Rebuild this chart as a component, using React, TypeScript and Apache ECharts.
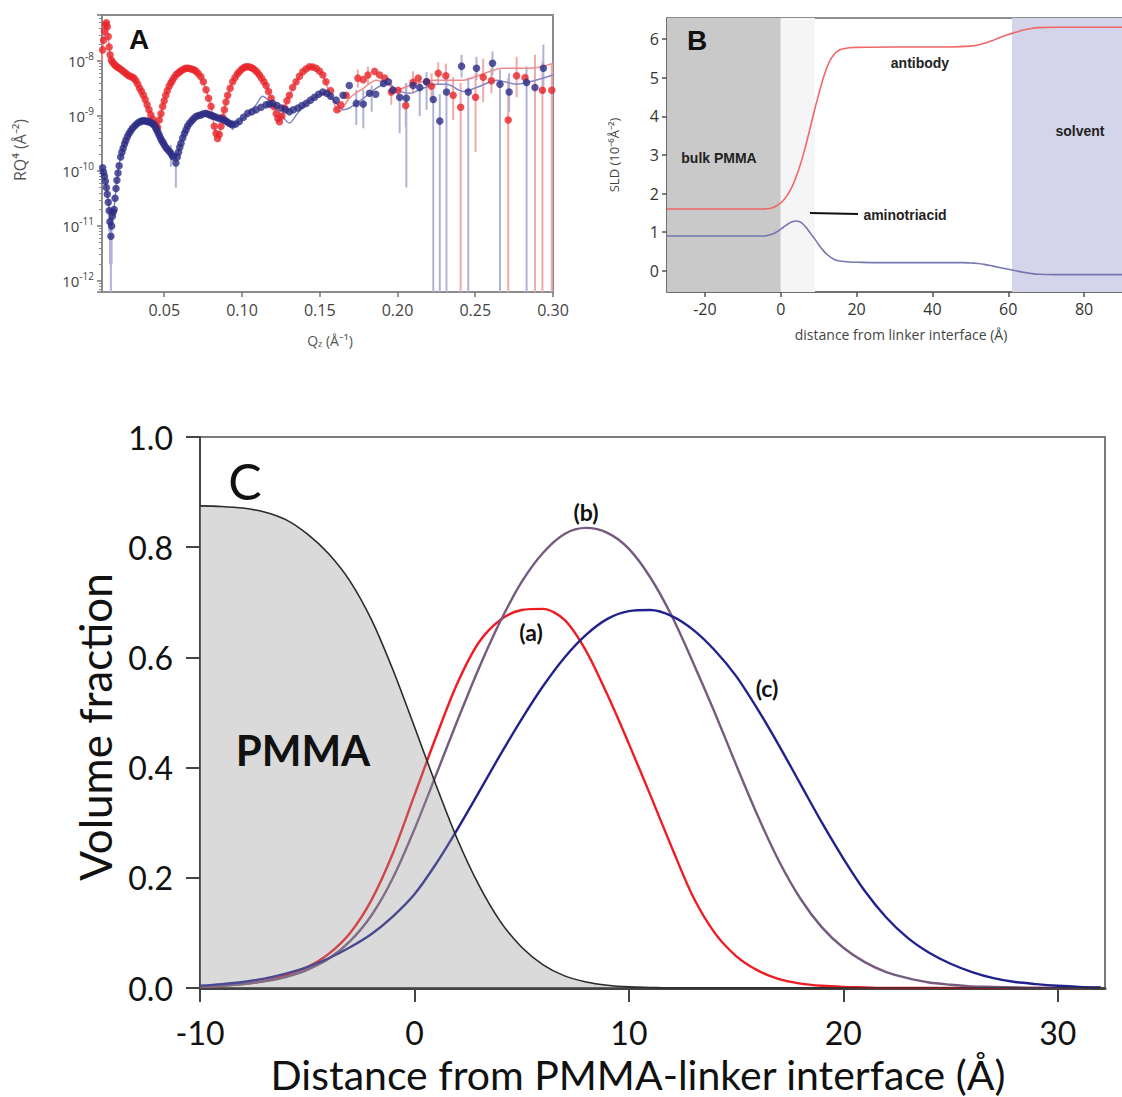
import React, { useEffect, useRef } from "react";
import * as echarts from "echarts";

// ---------------- Panel A: reflectivity RQ^4 vs Qz ----------------
const redPts: [number, number][] = [
  [0.0098, 1.05e-8], [0.0104, 1.6e-8], [0.011, 2.4e-8], [0.0116, 3.5e-8], [0.0122, 4.6e-8], [0.0128, 5.0e-8],
  [0.0134, 4.2e-8], [0.014, 2.8e-8], [0.0146, 1.8e-8], [0.0152, 1.3e-8], [0.016, 1.05e-8], [0.0168, 9.5e-9],
  [0.0178, 8.8e-9], [0.0188, 8.2e-9], [0.0198, 7.8e-9], [0.021, 7.4e-9], [0.0222, 7.0e-9], [0.0234, 6.6e-9],
  [0.0246, 6.2e-9], [0.0258, 5.8e-9], [0.027, 5.5e-9], [0.0282, 5.3e-9], [0.0294, 5.1e-9], [0.0306, 4.9e-9],
  [0.0318, 4.4e-9], [0.033, 3.8e-9], [0.0342, 3.2e-9], [0.0354, 2.8e-9], [0.0366, 2.4e-9], [0.0378, 2.0e-9],
  [0.039, 1.6e-9], [0.0402, 1.3e-9], [0.0414, 1.05e-9], [0.0426, 8.8e-10], [0.0438, 7.4e-10], [0.045, 6.4e-10],
  [0.0458, 6.2e-10], [0.0468, 8.5e-10], [0.0479, 1.1e-9], [0.049, 1.5e-9], [0.05, 1.9e-9], [0.051, 2.4e-9],
  [0.052, 2.9e-9], [0.0532, 3.5e-9], [0.0543, 4.0e-9], [0.0553, 4.5e-9], [0.0565, 5.1e-9], [0.0578, 5.7e-9],
  [0.059, 6.1e-9], [0.0603, 6.5e-9], [0.0616, 6.9e-9], [0.0628, 7.2e-9], [0.064, 7.4e-9], [0.0653, 7.4e-9],
  [0.0666, 7.3e-9], [0.068, 7.1e-9], [0.0693, 6.9e-9], [0.0706, 6.5e-9], [0.072, 5.9e-9], [0.0736, 5.2e-9],
  [0.0752, 4.2e-9], [0.0769, 3.0e-9], [0.0785, 2.1e-9], [0.0801, 1.5e-9], [0.0812, 1.0e-9], [0.0822, 6.5e-10],
  [0.0833, 4.8e-10], [0.0843, 3.9e-10], [0.0854, 4.6e-10], [0.0865, 6.5e-10], [0.0876, 9.5e-10], [0.0887, 1.3e-9],
  [0.0897, 1.8e-9], [0.0908, 2.4e-9], [0.0924, 3.2e-9], [0.094, 4.2e-9], [0.0955, 5.0e-9], [0.097, 5.8e-9],
  [0.0983, 6.4e-9], [0.0998, 7.1e-9], [0.1012, 7.6e-9], [0.1026, 7.9e-9], [0.104, 7.9e-9], [0.1055, 7.7e-9],
  [0.1069, 7.4e-9], [0.1083, 6.9e-9], [0.1098, 6.3e-9], [0.1112, 5.6e-9], [0.1126, 4.9e-9], [0.1141, 4.2e-9],
  [0.1155, 3.6e-9], [0.1171, 2.8e-9], [0.1188, 2.1e-9], [0.1204, 1.5e-9], [0.122, 1.1e-9], [0.1231, 9.0e-10],
  [0.1241, 7.9e-10], [0.1257, 1.0e-9], [0.1273, 1.4e-9], [0.1289, 1.9e-9], [0.1305, 2.4e-9], [0.1326, 3.3e-9],
  [0.1348, 4.2e-9], [0.137, 5.3e-9], [0.1391, 6.4e-9], [0.1412, 7.2e-9], [0.1434, 7.9e-9], [0.1455, 7.8e-9],
  [0.1477, 7.4e-9], [0.1498, 6.6e-9], [0.152, 5.6e-9], [0.154, 4.2e-9], [0.157, 2.9e-9], [0.161, 1.3e-9],
  [0.1635, 1.6e-9], [0.167, 2.4e-9], [0.1745, 4.9e-9], [0.178, 4.6e-9], [0.181, 5.6e-9], [0.1853, 6.5e-9],
  [0.1885, 5.6e-9], [0.1918, 4.9e-9], [0.196, 2.75e-9], [0.2003, 2.95e-9], [0.2053, 1.55e-9], [0.21, 4.1e-9],
  [0.2133, 4.9e-9], [0.2187, 4.2e-9], [0.2219, 3.5e-9], [0.2262, 6.0e-9], [0.2311, 5.4e-9], [0.2358, 2.4e-9],
  [0.2406, 1.45e-9], [0.2502, 2.2e-9], [0.2551, 5.1e-9], [0.2604, 4.4e-9], [0.2712, 8.5e-10], [0.2766, 5.4e-9],
  [0.282, 5.0e-9], [0.2932, 2.95e-9], [0.2992, 2.95e-9],
];

const bluePts: [number, number][] = [
  [0.0098, 1.3e-10], [0.0104, 1.15e-10], [0.011, 9.5e-11], [0.0116, 8e-11], [0.0122, 6.5e-11], [0.0128, 5e-11],
  [0.0134, 3.8e-11], [0.014, 2.7e-11], [0.0146, 1.9e-11], [0.0151, 1.2e-11], [0.0157, 6.5e-12], [0.0162, 1e-11],
  [0.0167, 1.5e-11], [0.0172, 1.8e-11], [0.0178, 2e-11], [0.0184, 3.2e-11], [0.019, 4.8e-11], [0.0196, 6.8e-11],
  [0.0203, 9.2e-11], [0.021, 1.25e-10], [0.022, 1.8e-10], [0.0228, 2.2e-10], [0.0236, 2.6e-10], [0.0245, 3.1e-10],
  [0.0253, 3.6e-10], [0.0263, 4.2e-10], [0.0274, 4.8e-10], [0.0285, 5.4e-10], [0.0296, 6e-10], [0.031, 6.6e-10],
  [0.0323, 7.2e-10], [0.0337, 7.7e-10], [0.035, 8e-10], [0.0361, 8.2e-10], [0.0372, 8.2e-10], [0.0383, 8.1e-10],
  [0.0393, 8e-10], [0.0404, 7.8e-10], [0.0415, 7.6e-10], [0.0426, 7.2e-10], [0.0436, 6.9e-10], [0.0444, 6.2e-10],
  [0.0452, 5.6e-10], [0.046, 5e-10], [0.0468, 4.5e-10], [0.0476, 4e-10], [0.0484, 3.6e-10], [0.0492, 3.3e-10],
  [0.05, 3e-10], [0.051, 2.7e-10], [0.052, 2.5e-10], [0.0532, 2.3e-10], [0.0543, 2.1e-10], [0.0552, 1.9e-10],
  [0.056, 1.8e-10], [0.0575, 1.4e-10], [0.0584, 1.8e-10], [0.0592, 2.2e-10], [0.06, 2.7e-10], [0.0608, 3.2e-10],
  [0.0619, 4e-10], [0.063, 4.8e-10], [0.064, 5.6e-10], [0.065, 6.5e-10], [0.0663, 7.4e-10], [0.0677, 8.2e-10],
  [0.069, 9e-10], [0.0704, 9.8e-10], [0.072, 1.02e-9], [0.0736, 1.05e-9], [0.0752, 1.1e-9], [0.0769, 1.12e-9],
  [0.0782, 1.08e-9], [0.0795, 1.05e-9], [0.0808, 1.01e-9], [0.0822, 9.8e-10], [0.0838, 9.4e-10], [0.0855, 9e-10],
  [0.0871, 8.8e-10], [0.0887, 8.5e-10], [0.0901, 8e-10], [0.0915, 7.5e-10], [0.0928, 7.2e-10], [0.094, 6.9e-10],
  [0.096, 7.2e-10], [0.0983, 8e-10], [0.101, 9.5e-10], [0.1037, 1.12e-9], [0.1064, 1.2e-9], [0.1091, 1.3e-9],
  [0.1123, 1.45e-9], [0.1155, 1.6e-9], [0.1176, 1.65e-9], [0.1198, 1.7e-9], [0.1225, 1.55e-9], [0.1252, 1.4e-9],
  [0.128, 1.3e-9], [0.1305, 1.2e-9], [0.133, 1.3e-9], [0.136, 1.4e-9], [0.1386, 1.55e-9], [0.1413, 1.7e-9],
  [0.144, 1.95e-9], [0.1467, 2.2e-9], [0.1493, 2.5e-9], [0.152, 2.75e-9], [0.1545, 2.6e-9], [0.157, 2.3e-9],
  [0.1606, 1.95e-9], [0.165, 2.4e-9], [0.169, 3.6e-9], [0.1735, 1.7e-9], [0.178, 1.65e-9], [0.182, 2.6e-9],
  [0.186, 2.5e-9], [0.191, 3.9e-9], [0.194, 4.2e-9], [0.197, 2.95e-9], [0.2014, 2.2e-9], [0.2057, 2.1e-9],
  [0.21, 3.6e-9], [0.2143, 3.3e-9], [0.2187, 4.2e-9], [0.223, 2e-9], [0.2272, 8.1e-10], [0.2315, 2.75e-9],
  [0.2412, 8.1e-9], [0.2455, 2.75e-9], [0.2508, 7.4e-9], [0.2611, 9.1e-9], [0.2659, 3.8e-9], [0.2718, 2.75e-9],
  [0.283, 4.1e-9], [0.2884, 3.3e-9], [0.2938, 7.4e-9],
];

const redFit: [number, number][] = [
  [0.0098, 1e-8], [0.011, 2.4e-8], [0.0128, 5e-8], [0.014, 2.8e-8], [0.0152, 1.3e-8], [0.0168, 9.5e-9],
  [0.0198, 7.8e-9], [0.0246, 6.2e-9], [0.0294, 5.0e-9], [0.0342, 3.2e-9], [0.039, 1.6e-9], [0.0426, 8.8e-10],
  [0.0455, 6.3e-10], [0.0479, 1.1e-9], [0.051, 2.4e-9], [0.0553, 4.5e-9], [0.0597, 6.4e-9], [0.064, 7.4e-9],
  [0.0693, 6.9e-9], [0.0736, 5.2e-9], [0.0769, 3e-9], [0.0801, 1.5e-9], [0.0822, 6.5e-10], [0.0843, 4e-10],
  [0.0865, 6.5e-10], [0.0887, 1.3e-9], [0.0908, 2.4e-9], [0.094, 4.2e-9], [0.0983, 6.4e-9], [0.1026, 7.9e-9],
  [0.1069, 7.4e-9], [0.1112, 5.6e-9], [0.1155, 3.6e-9], [0.1188, 2.1e-9], [0.122, 1.1e-9], [0.1241, 8e-10],
  [0.1273, 1.4e-9], [0.1305, 2.4e-9], [0.1348, 4.2e-9], [0.1391, 6.4e-9], [0.1434, 7.9e-9], [0.1477, 7.4e-9],
  [0.152, 5.6e-9], [0.156, 2.8e-9], [0.1628, 1.2e-9], [0.169, 2.1e-9], [0.178, 3.2e-9], [0.1863, 4.5e-9],
  [0.195, 3.6e-9], [0.1993, 3e-9], [0.2079, 3.6e-9], [0.2165, 4.2e-9], [0.223, 4.5e-9], [0.2423, 4.5e-9],
  [0.253, 5.6e-9], [0.268, 7.4e-9], [0.2852, 7.4e-9], [0.3, 9.1e-9],
];

const blueFit: [number, number][] = [
  [0.0098, 1.3e-10], [0.0124, 6e-11], [0.0146, 2e-11], [0.0157, 8e-12], [0.0168, 1.5e-11], [0.0178, 2.2e-11],
  [0.0199, 8e-11], [0.022, 1.8e-10], [0.0253, 3.6e-10], [0.0296, 6e-10], [0.035, 8e-10], [0.0393, 8e-10],
  [0.0436, 6.9e-10], [0.0468, 4.5e-10], [0.05, 3e-10], [0.0543, 2.1e-10], [0.0575, 1.8e-10], [0.0608, 3.2e-10],
  [0.065, 6.5e-10], [0.0704, 9.8e-10], [0.0769, 1.12e-9], [0.0822, 1e-9], [0.0887, 8.5e-10], [0.094, 7.2e-10],
  [0.0983, 8e-10], [0.1037, 1.1e-9], [0.1091, 1.6e-9], [0.1133, 2.3e-9], [0.1165, 2e-9], [0.1198, 1.6e-9],
  [0.1252, 1.05e-9], [0.1305, 7.5e-10], [0.1355, 1.1e-9], [0.1413, 1.7e-9], [0.1467, 2.2e-9], [0.152, 2.6e-9],
  [0.157, 2.2e-9], [0.1606, 1.7e-9], [0.1655, 1.3e-9], [0.178, 2.1e-9], [0.1863, 3.2e-9], [0.1939, 4e-9],
  [0.1993, 3e-9], [0.2079, 2.6e-9], [0.2165, 3.2e-9], [0.2251, 3.8e-9], [0.2316, 3.8e-9], [0.2423, 2.8e-9],
  [0.253, 3.5e-9], [0.2637, 4.5e-9], [0.2766, 3.8e-9], [0.2852, 4.2e-9], [0.3, 5.6e-9],
];

// error bars: [q, low (null = runs off the bottom), high]
const redErr: [number, number | null, number][] = [
  [0.1745, 3.3e-9, 7e-9], [0.181, 3.8e-9, 8e-9], [0.196, 1.6e-9, 4.6e-9], [0.2053, 6.3e-10, 3.9e-9],
  [0.21, 2.6e-9, 6.5e-9], [0.2219, 2e-9, 6e-9], [0.2262, 3.7e-9, 9.5e-9], [0.2311, 3.2e-9, 9e-9],
  [0.2358, 8.5e-10, 5.1e-9], [0.2406, null, 4e-9], [0.2502, 2.2e-10, 6e-9], [0.2551, 1.8e-9, 1.1e-8],
  [0.2604, 2.6e-9, 7.5e-9], [0.2712, null, 5e-9], [0.2766, 2.2e-9, 1.2e-8], [0.2884, null, 1.3e-8],
  [0.2932, null, 1e-8], [0.2992, null, 9e-9],
];
const blueErr: [number, number | null, number][] = [
  [0.0146, 8e-12, 3e-11], [0.0151, 2e-12, 2e-11], [0.0157, null, 1.5e-11], [0.0162, 2e-12, 2e-11],
  [0.0543, 1.2e-10, 3e-10], [0.0575, 5e-11, 2.2e-10], [0.094, 5.5e-10, 8.5e-10], [0.1735, 6.9e-10, 3e-9],
  [0.178, 6e-10, 3e-9], [0.1834, 1.2e-9, 3.6e-9], [0.2014, 4.9e-10, 2.4e-9], [0.2057, 5e-11, 4e-9],
  [0.2143, 1e-9, 5.1e-9], [0.2187, 1.3e-9, 6.3e-9], [0.223, null, 3e-9], [0.2272, null, 2.5e-9],
  [0.2315, null, 5.2e-9], [0.2412, 5e-9, 1.3e-8], [0.2455, null, 5e-9], [0.2508, 4.5e-9, 1.2e-8],
  [0.2611, 5.5e-9, 1.5e-8], [0.2659, null, 7e-9], [0.2718, 1.2e-9, 6e-9], [0.283, null, 8e-9],
  [0.2938, 2.5e-9, 2e-8],
];

// ---------------- Panel B: SLD profiles ----------------
const sldRed: [number, number][] = [
  [-30, 1.6], [-5, 1.6], [-4, 1.605], [-3, 1.615], [-2, 1.64], [-1, 1.69], [0, 1.76], [1, 1.86], [2, 2.0],
  [3, 2.18], [4, 2.42], [5, 2.7], [6, 3.03], [7, 3.4], [8, 3.8], [9, 4.2], [10, 4.57], [11, 4.92], [12, 5.22],
  [13, 5.45], [14, 5.6], [15, 5.69], [16, 5.74], [18, 5.78], [20, 5.79], [30, 5.8], [45, 5.8], [50, 5.82],
  [52, 5.85], [54, 5.9], [56, 5.97], [58, 6.05], [60, 6.12], [62, 6.18], [64, 6.24], [66, 6.28], [68, 6.3],
  [72, 6.31], [90, 6.31],
];
const sldBlue: [number, number][] = [
  [-30, 0.9], [-5, 0.9], [-4, 0.905], [-3, 0.925], [-2, 0.96], [-1, 1.01], [0, 1.08], [1, 1.15], [2, 1.22],
  [3, 1.27], [4, 1.29], [5, 1.27], [6, 1.2], [7, 1.08], [8, 0.95], [9, 0.82], [10, 0.68], [11, 0.55], [12, 0.44],
  [13, 0.36], [14, 0.3], [15, 0.265], [16, 0.245], [18, 0.228], [20, 0.22], [30, 0.21], [48, 0.21], [50, 0.2],
  [52, 0.19], [54, 0.16], [56, 0.12], [58, 0.08], [60, 0.04], [62, 0.0], [64, -0.04], [66, -0.07],
  [68, -0.09], [72, -0.1], [90, -0.1],
];
const bRegions: [number, number, string][] = [
  [-30, 0, "#c9c9c9"],
  [0, 9, "#f5f5f5"],
  [61, 90, "#d4d4ea"],
];

// ---------------- Panel C: volume fractions ----------------
const cX = [-10, -9, -8, -7, -6, -5, -4, -3, -2, -1, 0, 1, 2, 3, 4, 5, 6, 7, 8, 9, 10, 11, 12, 13, 14, 15, 16, 17, 18, 19, 20, 21, 22, 23, 24, 25, 26, 27, 28, 29, 30, 31, 32];
const pmma = [0.875, 0.874, 0.871, 0.864, 0.85, 0.824, 0.788, 0.738, 0.668, 0.577, 0.474, 0.369, 0.27, 0.187, 0.121, 0.074, 0.042, 0.022, 0.011, 0.005, 0.002, 0.001, 0, 0, 0, 0, 0, 0, 0, 0, 0, 0, 0, 0, 0, 0, 0, 0, 0, 0, 0, 0, 0];
const curveA = [0.002, 0.004, 0.007, 0.013, 0.023, 0.038, 0.062, 0.1, 0.16, 0.245, 0.35, 0.455, 0.553, 0.627, 0.668, 0.686, 0.688, 0.668, 0.612, 0.532, 0.443, 0.35, 0.255, 0.165, 0.1, 0.058, 0.032, 0.016, 0.008, 0.004, 0.002, 0.001, 0, 0, 0, 0, 0, 0, 0, 0, 0, 0, 0];
const curveB = [0.002, 0.004, 0.007, 0.012, 0.02, 0.033, 0.053, 0.085, 0.132, 0.2, 0.288, 0.386, 0.485, 0.58, 0.665, 0.737, 0.79, 0.824, 0.835, 0.826, 0.797, 0.745, 0.675, 0.59, 0.5, 0.405, 0.313, 0.23, 0.162, 0.11, 0.073, 0.047, 0.029, 0.018, 0.01, 0.006, 0.003, 0.002, 0.001, 0, 0, 0, 0];
const curveC = [0.004, 0.007, 0.011, 0.017, 0.026, 0.038, 0.054, 0.074, 0.098, 0.13, 0.17, 0.225, 0.288, 0.355, 0.423, 0.488, 0.548, 0.6, 0.641, 0.67, 0.684, 0.686, 0.675, 0.65, 0.613, 0.566, 0.506, 0.44, 0.37, 0.3, 0.235, 0.176, 0.128, 0.091, 0.064, 0.044, 0.029, 0.018, 0.011, 0.007, 0.004, 0.002, 0.001];

const A_MIN = 6.3e-13;
const A_MAX = 6.9e-8;
const FONT = "'Open Sans', 'Liberation Sans', sans-serif";
const BOLD = "'Liberation Sans', Arial, sans-serif";
const CFONT = "Lato, 'Open Sans', sans-serif";

const errRender = (color: string) => (params: any, api: any) => {
  const q = api.value(0);
  const p1 = api.coord([q, api.value(1)]);
  const p2 = api.coord([q, api.value(2)]);
  return {
    type: "line",
    shape: { x1: p1[0], y1: p1[1], x2: p2[0], y2: p2[1] },
    style: { stroke: color, lineWidth: 2 },
  };
};

const zip = (xs: number[], ys: number[]) => xs.map((x, i) => [x, ys[i]]);

export default function App() {
  const ref = useRef<HTMLDivElement>(null);
  useEffect(() => {
    if (!ref.current) return;
    const chart = echarts.init(ref.current, undefined, { renderer: "svg" });
    const tickStyle = (c: string) => ({ lineStyle: { color: c, width: 1.5 } });
    const boldLabel = (text: string, x: number, y: number) => ({
      type: "text", x, y, z: 10,
      style: { text, fill: "#222", fontSize: 14, fontWeight: "bold", fontFamily: BOLD, align: "center", verticalAlign: "middle" },
    });
    const option: any = {
      animation: false,
      backgroundColor: "#ffffff",
      grid: [
        { left: 102, top: 15, width: 451, height: 277, show: true, borderColor: "#8c8c8c", borderWidth: 2 },
        { left: 667, top: 18, width: 465, height: 274, show: true, borderColor: "#6a6a6a", borderWidth: 1.5 },
        { left: 200, top: 437, width: 905, height: 551, show: true, borderColor: "#7a7a7a", borderWidth: 2 },
      ],
      xAxis: [
        {
          gridIndex: 0, type: "value", min: 0.01, max: 0.3, splitNumber: 6,
          splitLine: { show: false },
          axisLine: { onZero: false, lineStyle: { color: "#8c8c8c", width: 2 } },
          axisTick: { length: 5, ...tickStyle("#777") },
          axisLabel: { showMinLabel: false, formatter: (v: number) => v.toFixed(2), color: "#444", fontSize: 16, fontFamily: FONT, margin: 10 },
        },
        {
          gridIndex: 1, type: "value", min: -30, max: 90, splitNumber: 6,
          splitLine: { show: false },
          axisLine: { onZero: false, lineStyle: { color: "#666", width: 1.5 } },
          axisTick: { length: 5, ...tickStyle("#555") },
          axisLabel: { showMinLabel: false, showMaxLabel: false, color: "#333", fontSize: 16, fontFamily: FONT, margin: 9 },
        },
        {
          gridIndex: 2, type: "value", min: -10, max: 32.2, interval: 10,
          splitLine: { show: false },
          axisLine: { onZero: false, lineStyle: { color: "#444", width: 3 } },
          axisTick: { length: 14, lineStyle: { color: "#444", width: 2 } },
          axisLabel: { showMaxLabel: false, color: "#111", fontSize: 32, fontFamily: CFONT, margin: 28 },
        },
      ],
      yAxis: [
        {
          gridIndex: 0, type: "log", logBase: 10, min: A_MIN, max: A_MAX,
          splitLine: { show: false },
          axisLine: { onZero: false, lineStyle: { color: "#8c8c8c", width: 2 } },
          axisTick: { length: 5, ...tickStyle("#777") },
          minorTick: { show: true, splitNumber: 9, length: 3, lineStyle: { color: "#888" } },
          axisLabel: {
            margin: 8,
            formatter: (v: number) => {
              const e = Math.log10(v);
              const r = Math.round(e);
              if (Math.abs(e - r) > 1e-6) return "";
              return `{b|10}{s|${r}}`;
            },
            rich: {
              b: { fontSize: 15, color: "#444", fontFamily: FONT },
              s: { fontSize: 10, color: "#444", fontFamily: FONT, padding: [0, 0, 10, 0] },
            },
          },
        },
        {
          gridIndex: 1, type: "value", min: -0.55, max: 6.55, splitNumber: 7,
          splitLine: { show: false },
          axisLine: { onZero: false, lineStyle: { color: "#666", width: 1.5 } },
          axisTick: { length: 5, ...tickStyle("#555") },
          axisLabel: { showMinLabel: false, showMaxLabel: false, color: "#333", fontSize: 16, fontFamily: FONT, margin: 8 },
        },
        {
          gridIndex: 2, type: "value", min: 0, max: 1, interval: 0.2,
          splitLine: { show: false },
          axisLine: { onZero: false, lineStyle: { color: "#444", width: 2 } },
          axisTick: { length: 14, lineStyle: { color: "#444", width: 2 } },
          axisLabel: { formatter: (v: number) => v.toFixed(1), color: "#111", fontSize: 32, fontFamily: CFONT, margin: 27 },
        },
      ],
      series: [
        // ---- A ----
        {
          type: "custom", xAxisIndex: 0, yAxisIndex: 0, z: 1, clip: true,
          renderItem: errRender("#f3a9a9"),
          encode: { x: 0, y: [1, 2] },
          data: redErr.map(([q, lo, hi]) => [q, lo === null ? A_MIN : lo, hi]),
        },
        {
          type: "custom", xAxisIndex: 0, yAxisIndex: 0, z: 1, clip: true,
          renderItem: errRender("#b1b2d8"),
          encode: { x: 0, y: [1, 2] },
          data: blueErr.map(([q, lo, hi]) => [q, lo === null ? A_MIN : lo, hi]),
        },
        {
          type: "line", xAxisIndex: 0, yAxisIndex: 0, z: 2, showSymbol: false, smooth: 0.3,
          lineStyle: { color: "#f08a8a", width: 1.5 }, data: redFit,
        },
        {
          type: "line", xAxisIndex: 0, yAxisIndex: 0, z: 2, showSymbol: false, smooth: 0.3,
          lineStyle: { color: "#8486c6", width: 1.5 }, data: blueFit,
        },
        {
          type: "scatter", xAxisIndex: 0, yAxisIndex: 0, z: 3, symbolSize: 7.5,
          itemStyle: { color: "#e8262b" }, data: redPts,
        },
        {
          type: "scatter", xAxisIndex: 0, yAxisIndex: 0, z: 4, symbolSize: 7.5,
          itemStyle: { color: "#2d2d85" }, data: bluePts,
        },
        // ---- B ----
        {
          type: "line", xAxisIndex: 1, yAxisIndex: 1, z: 1, data: [],
          markArea: {
            silent: true,
            data: bRegions.map(([a, b, c]) => [{ xAxis: a, itemStyle: { color: c } }, { xAxis: b }]),
          },
        },
        {
          type: "line", xAxisIndex: 1, yAxisIndex: 1, z: 3, showSymbol: false, smooth: 0.4,
          lineStyle: { color: "#f06868", width: 1.6 }, data: sldRed,
        },
        {
          type: "line", xAxisIndex: 1, yAxisIndex: 1, z: 3, showSymbol: false, smooth: 0.4,
          lineStyle: { color: "#7676b0", width: 1.6 }, data: sldBlue,
        },
        // ---- C ----
        {
          type: "line", xAxisIndex: 2, yAxisIndex: 2, z: 2, showSymbol: false, smooth: 0.3,
          lineStyle: { color: "#ee1d25", width: 2.4 }, data: zip(cX, curveA),
        },
        {
          type: "line", xAxisIndex: 2, yAxisIndex: 2, z: 2, showSymbol: false, smooth: 0.3,
          lineStyle: { color: "#765b80", width: 2.4 }, data: zip(cX, curveB),
        },
        {
          type: "line", xAxisIndex: 2, yAxisIndex: 2, z: 2, showSymbol: false, smooth: 0.3,
          lineStyle: { color: "#22228f", width: 2.4 }, data: zip(cX, curveC),
        },
        {
          type: "line", xAxisIndex: 2, yAxisIndex: 2, z: 5, showSymbol: false, smooth: 0.3,
          lineStyle: { color: "#2a2a2a", width: 1.6 },
          areaStyle: { color: "rgba(148,148,148,0.5)" },
          data: zip(cX, pmma),
        },
      ],
      graphic: [
        // panel A
        { type: "text", x: 139, y: 39, z: 10, style: { text: "A", fill: "#111", fontSize: 28, fontWeight: "bold", fontFamily: BOLD, align: "center", verticalAlign: "middle" } },
        { type: "text", x: 20, y: 150, rotation: Math.PI / 2, style: { text: "RQ⁴ (Å⁻²)", fill: "#555", fontSize: 16, fontFamily: FONT, align: "center", verticalAlign: "middle" } },
        {
          type: "text", x: 330, y: 340,
          style: {
            text: "{q|Q}{z|z}{q| (Å⁻¹)}", align: "center", verticalAlign: "middle",
            rich: { q: { fontSize: 14, fill: "#555", fontFamily: FONT }, z: { fontSize: 9, fill: "#555", fontFamily: FONT, padding: [7, 0, 0, 0] } },
          },
        },
        // panel B
        { type: "text", x: 697, y: 40, z: 10, style: { text: "B", fill: "#111", fontSize: 28, fontWeight: "bold", fontFamily: BOLD, align: "center", verticalAlign: "middle" } },
        boldLabel("bulk PMMA", 719, 158),
        boldLabel("antibody", 920, 63),
        boldLabel("solvent", 1080, 131),
        boldLabel("aminotriacid", 905, 215),
        { type: "line", z: 10, shape: { x1: 810, y1: 213, x2: 858, y2: 214 }, style: { stroke: "#111", lineWidth: 2 } },
        { type: "text", x: 614, y: 155, rotation: Math.PI / 2, style: { text: "SLD (10⁻⁶Å⁻²)", fill: "#444", fontSize: 13, fontFamily: FONT, align: "center", verticalAlign: "middle" } },
        { type: "text", x: 901, y: 334, style: { text: "distance from linker interface (Å)", fill: "#444", fontSize: 14, fontFamily: FONT, align: "center", verticalAlign: "middle" } },
        // panel C
        { type: "text", x: 245, y: 481, z: 10, style: { text: "C", fill: "#111", fontSize: 50, fontFamily: CFONT, align: "center", verticalAlign: "middle" } },
        { type: "text", x: 303, y: 750, z: 10, style: { text: "PMMA", fill: "#111", fontSize: 42, fontWeight: "bold", fontFamily: CFONT, align: "center", verticalAlign: "middle" } },
        { type: "text", x: 531, y: 632, z: 10, style: { text: "(a)", fill: "#111", fontSize: 23, fontWeight: "bold", fontFamily: CFONT, align: "center", verticalAlign: "middle" } },
        { type: "text", x: 586, y: 512, z: 10, style: { text: "(b)", fill: "#111", fontSize: 23, fontWeight: "bold", fontFamily: CFONT, align: "center", verticalAlign: "middle" } },
        { type: "text", x: 767, y: 688, z: 10, style: { text: "(c)", fill: "#111", fontSize: 23, fontWeight: "bold", fontFamily: CFONT, align: "center", verticalAlign: "middle" } },
        { type: "text", x: 95, y: 727, rotation: Math.PI / 2, style: { text: "Volume fraction", fill: "#111", fontSize: 44, fontFamily: CFONT, align: "center", verticalAlign: "middle" } },
        { type: "text", x: 638, y: 1074, style: { text: "Distance from PMMA-linker interface (Å)", fill: "#111", fontSize: 41, fontFamily: CFONT, align: "center", verticalAlign: "middle" } },
      ],
    };
    chart.setOption(option);
    return () => chart.dispose();
  }, []);
  return (
    <div
      ref={ref}
      style={{ position: "fixed", left: 0, top: 0, width: 1122, height: 1097, background: "#fff" }}
    />
  );
}
